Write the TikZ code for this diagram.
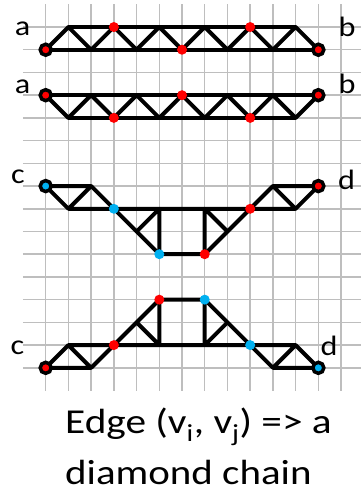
\documentclass[tikz,border=0pt]{standalone}
\usepackage{fontspec}
\setmainfont{Carlito}
\definecolor{skyb}{HTML}{00B0F0}
\definecolor{gridgray}{HTML}{BEBEBE}
\begin{document}
\begin{tikzpicture}[x=1pt,y=-1pt,
  gridline/.style={draw=gridgray, line width=1.5pt},
  chainline/.style={draw=black, line width=4pt, line join=round},
  rdot/.style={circle, fill=red, inner sep=0pt, minimum size=10pt},
  bdot/.style={circle, fill=skyb, inner sep=0pt, minimum size=10pt},
  redterm/.style={circle, draw=black, line width=3.5pt, fill=red, inner sep=0pt, minimum size=11pt},
  blueterm/.style={circle, draw=black, line width=3.5pt, fill=skyb, inner sep=0pt, minimum size=11pt},
  lbl/.style={font=\fontsize{28}{30}\selectfont, inner sep=0pt, anchor=base},
  captxt/.style={font=\fontsize{35}{40}\selectfont, inner sep=0pt, anchor=base west}]
\useasboundingbox (0,0) rectangle (361,495);
\begin{scope}[shift={(45.7pt,-4.3pt)}, x=22.72pt, y=-22.72pt]
  % grid
  \foreach \c in {0,...,13} \draw[gridline] (\c,0) -- (\c,17);
  \foreach \r in {1,...,16} \draw[gridline] (-1,\r) -- (13.88,\r);
  % chain 1
  \foreach \k in {0,...,12} {\pgfmathtruncatemacro\rr{2-mod(\k,2)} \coordinate (u\k) at (\k,\rr);}
  \draw[chainline] (u1) -- (u11);
  \draw[chainline] (u0) -- (u12);
  \draw[chainline] (u0) \foreach \k in {1,...,12} { -- (u\k)};
  % chain 2
  \foreach \k in {0,...,12} {\pgfmathtruncatemacro\rr{4+mod(\k,2)} \coordinate (v\k) at (\k,\rr);}
  \draw[chainline] (v0) -- (v12);
  \draw[chainline] (v1) -- (v11);
  \draw[chainline] (v0) \foreach \k in {1,...,12} { -- (v\k)};
  % chain 3
  \coordinate (c0) at (0,8);  \coordinate (c1) at (1,9);  \coordinate (c2) at (2,8);
  \coordinate (c3) at (3,9);  \coordinate (c4) at (4,10); \coordinate (c5) at (5,11);
  \coordinate (c6) at (5,9);  \coordinate (c7) at (7,9);  \coordinate (c8) at (7,11);
  \coordinate (c9) at (8,10); \coordinate (c10) at (9,9); \coordinate (c11) at (10,8);
  \coordinate (c12) at (11,9); \coordinate (c13) at (12,8);
  \draw[chainline] (c1) -- (c0) -- (c2) -- (c1) -- (c12) -- (c13) -- (c11) -- (c12);
  \draw[chainline] (c2) -- (c3) -- (c4) -- (c5) -- (c8) -- (c9) -- (c10) -- (c11);
  \draw[chainline] (c4) -- (c6) -- (c5);
  \draw[chainline] (c8) -- (c7) -- (c9);
  % chain 4
  \coordinate (e0) at (0,16);  \coordinate (e1) at (1,15);  \coordinate (e2) at (2,16);
  \coordinate (e3) at (3,15);  \coordinate (e4) at (4,14);  \coordinate (e5) at (5,13);
  \coordinate (e6) at (5,15);  \coordinate (e7) at (7,15);  \coordinate (e8) at (7,13);
  \coordinate (e9) at (8,14);  \coordinate (e10) at (9,15); \coordinate (e11) at (10,16);
  \coordinate (e12) at (11,15); \coordinate (e13) at (12,16);
  \draw[chainline] (e1) -- (e0) -- (e2) -- (e1) -- (e12) -- (e13) -- (e11) -- (e12);
  \draw[chainline] (e2) -- (e3) -- (e4) -- (e5) -- (e8) -- (e9) -- (e10) -- (e11);
  \draw[chainline] (e4) -- (e6) -- (e5);
  \draw[chainline] (e8) -- (e7) -- (e9);
  % dots chain 1
  \node[rdot] (d1a) at (u3) {};
  \node[rdot] (d1b) at (u6) {};
  \node[rdot] (d1c) at (u9) {};
  \node[redterm] (a1) at (u0) {};
  \node[redterm] (b1) at (u12) {};
  % dots chain 2
  \node[rdot] (d2a) at (v3) {};
  \node[rdot] (d2b) at (v6) {};
  \node[rdot] (d2c) at (v9) {};
  \node[redterm] (a2) at (v0) {};
  \node[redterm] (b2) at (v12) {};
  % dots chain 3
  \node[bdot] (d3a) at (c3) {};
  \node[bdot] (d3b) at (c5) {};
  \node[rdot] (d3c) at (c8) {};
  \node[rdot] (d3d) at (c10) {};
  \node[blueterm] (cc1) at (c0) {};
  \node[redterm] (dd1) at (c13) {};
  % dots chain 4
  \node[rdot] (d4a) at (e3) {};
  \node[rdot] (d4b) at (e5) {};
  \node[bdot] (d4c) at (e8) {};
  \node[bdot] (d4d) at (e10) {};
  \node[redterm] (cc2) at (e0) {};
  \node[blueterm] (dd2) at (e13) {};
\end{scope}
% labels
\node[lbl] (la1) at (22.7,35.7) {\scalebox{1.15}[1]{a}};
\node[lbl] (lb1) at (347,36.5) {\scalebox{1.15}[1]{b}};
\node[lbl] (la2) at (22.7,93) {\scalebox{1.15}[1]{a}};
\node[lbl] (lb2) at (347,93) {\scalebox{1.15}[1]{b}};
\node[lbl] (lc1) at (18,183.5) {\scalebox{1.15}[1]{c}};
\node[lbl] (ld1) at (346.5,189) {\scalebox{1.15}[1]{d}};
\node[lbl] (lc2) at (17.5,354) {\scalebox{1.15}[1]{c}};
\node[lbl] (ld2) at (329,355) {\scalebox{1.15}[1]{d}};
% caption
\node[captxt] (t1) at (65,433) {\scalebox{1.18}[1]{Edge (v\textsubscript{i}, v\textsubscript{j}) => a}};
\node[captxt] (t2) at (65,484.5) {\scalebox{1.17}[1]{diamond chain}};
\end{tikzpicture}
\end{document}
